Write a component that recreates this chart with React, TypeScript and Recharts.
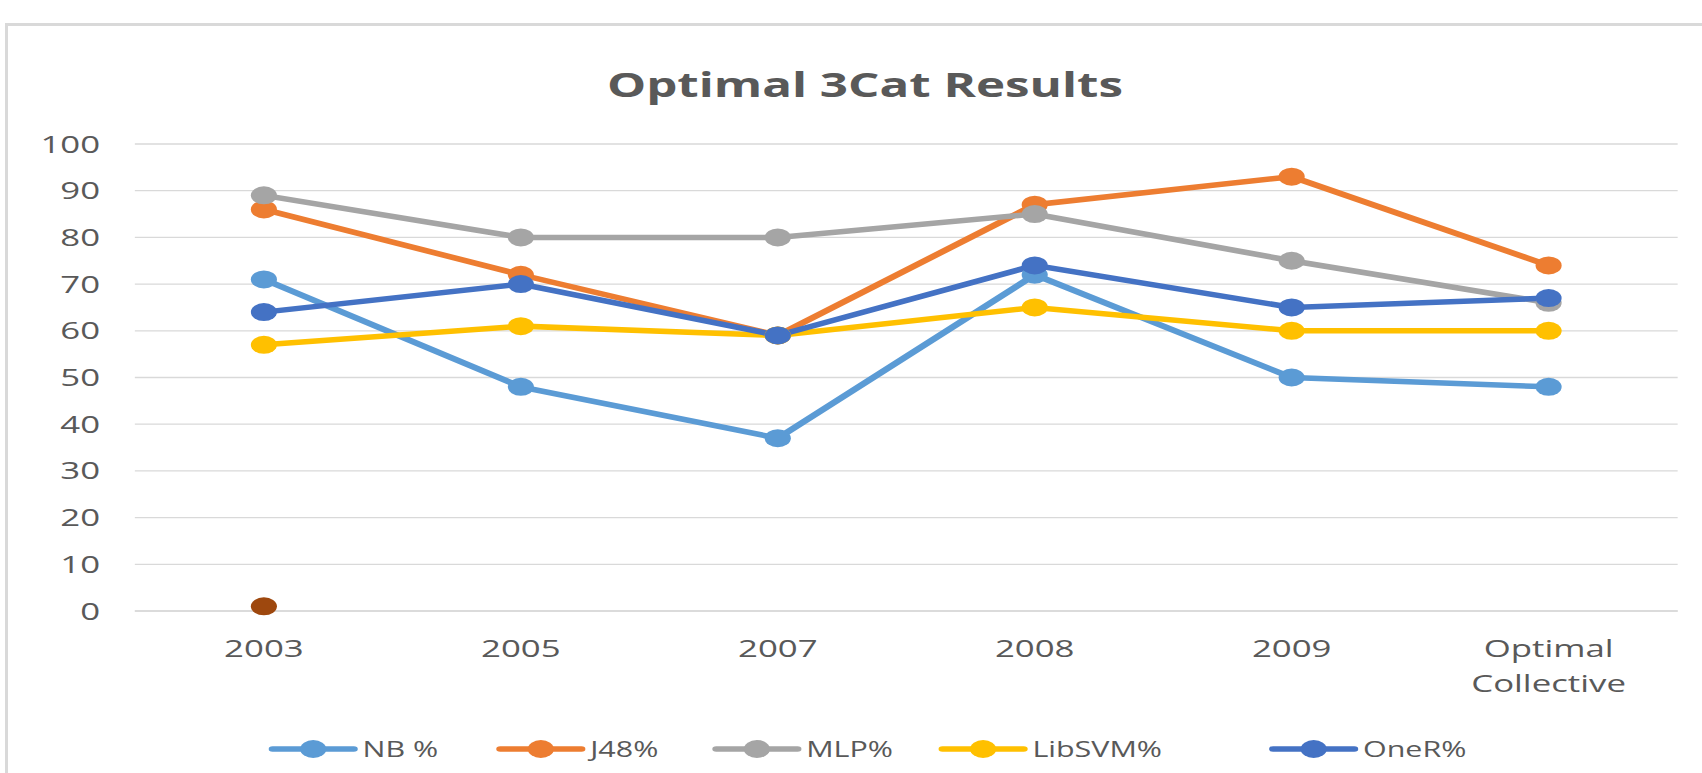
import React from "react";
import { LineChart, Line, XAxis, YAxis, CartesianGrid, Legend } from "recharts";

// values
const categories = ["2003", "2005", "2007", "2008", "2009", "Optimal Collective"];
const nbValues = [71, 48, 37, 72, 50, 48];
const j48Values = [86, 72, 59, 87, 93, 74];
const mlpValues = [89, 80, 80, 85, 75, 66];
const libSvmValues = [57, 61, 59, 65, 60, 60];
const oneRValues = [64, 70, 59, 74, 65, 67];
const strayValues = [1, null, null, null, null, null];
const yTicks = [0, 10, 20, 30, 40, 50, 60, 70, 80, 90, 100];

const series = [
  { key: "nb", name: "NB %", color: "#5B9BD5", values: nbValues },
  { key: "j48", name: "J48%", color: "#ED7D31", values: j48Values },
  { key: "mlp", name: "MLP%", color: "#A5A5A5", values: mlpValues },
  { key: "libsvm", name: "LibSVM%", color: "#FFC000", values: libSvmValues },
  { key: "oner", name: "OneR%", color: "#4472C4", values: oneRValues },
];

const data = categories.map((category, i) => {
  const row: Record<string, string | number | null> = { category, stray: strayValues[i] };
  series.forEach((s) => {
    row[s.key] = s.values[i];
  });
  return row;
});

// the reference is stretched horizontally, so the chart is drawn narrow and scaled
const STRETCH = 1.45;
const WIDTH = 1174;
const HEIGHT = 773;
const TEXT = "#595959";
const FONT = "'Open Sans', sans-serif";
const legendItemWidths = [157, 149, 156, 228, 150];

const CategoryTick = (props: any) => {
  const { x, y, payload } = props;
  const lines = String(payload.value).split(" ");
  return (
    <text x={x} y={y} textAnchor="middle" fill={TEXT} fontSize={24} fontFamily={FONT}>
      {lines.map((line, i) => (
        <tspan key={line} x={x} dy={i === 0 ? "0.71em" : 35}>
          {line}
        </tspan>
      ))}
    </text>
  );
};

const LegendContent = () => (
  <div style={{ height: 40, display: "flex", alignItems: "center", paddingLeft: 185 }}>
    {series.map((s, i) => (
      <div key={s.key} style={{ width: legendItemWidths[i], display: "flex", alignItems: "center" }}>
        <svg width={62} height={24}>
          <line x1={3} x2={59} y1={12} y2={12} stroke={s.color} strokeWidth={5.5} strokeLinecap="round" />
          <circle cx={31} cy={12} r={9} fill={s.color} />
        </svg>
        <span style={{ marginLeft: 3, fontSize: 21, color: TEXT, fontFamily: FONT }}>{s.name}</span>
      </div>
    ))}
  </div>
);

export default function App() {
  return (
    <div style={{ position: "absolute", left: 0, top: 0, width: 1702, height: HEIGHT, overflow: "hidden", background: "#fff" }}>
      <div
        style={{
          position: "absolute",
          left: 5,
          top: 23,
          width: 1720,
          height: 800,
          borderTop: "3px solid #d9d9d9",
          borderLeft: "3px solid #d9d9d9",
        }}
      />
      <div
        style={{
          position: "absolute",
          left: 0,
          top: 0,
          width: WIDTH,
          height: HEIGHT,
          transform: `scaleX(${STRETCH})`,
          transformOrigin: "0 0",
        }}
      >
        <div
          style={{
            position: "absolute",
            left: 0,
            top: 62,
            width: 1193,
            textAlign: "center",
            fontFamily: FONT,
            fontWeight: 700,
            fontSize: 34,
            lineHeight: "44px",
            color: TEXT,
          }}
        >
          Optimal 3Cat Results
        </div>
        <LineChart
          width={WIDTH}
          height={HEIGHT}
          data={data}
          margin={{ top: 144, right: 17, left: 0, bottom: 62 }}
        >
          <CartesianGrid vertical={false} stroke="#d9d9d9" strokeWidth={1.3} />
          <XAxis
            dataKey="category"
            interval={0}
            padding={{ left: 89, right: 89 }}
            tickLine={false}
            axisLine={{ stroke: "#d9d9d9", strokeWidth: 1.3 }}
            tickMargin={23}
            height={60}
            tick={<CategoryTick />}
          />
          <YAxis
            domain={[0, 100]}
            ticks={yTicks}
            width={93}
            tickLine={false}
            axisLine={false}
            tickMargin={18}
            tick={{ fill: TEXT, fontSize: 24, fontFamily: FONT }}
          />
          <Legend
            verticalAlign="bottom"
            content={<LegendContent />}
            wrapperStyle={{ left: 0, width: WIDTH, bottom: 4 }}
          />
          {series.map((s) => (
            <Line
              key={s.key}
              dataKey={s.key}
              name={s.name}
              stroke={s.color}
              strokeWidth={5.5}
              dot={{ r: 9, fill: s.color, stroke: s.color, strokeWidth: 0 }}
              activeDot={false}
              isAnimationActive={false}
            />
          ))}
          <Line
            dataKey="stray"
            legendType="none"
            stroke="#9E480E"
            strokeWidth={5.5}
            dot={{ r: 9, fill: "#9E480E", stroke: "#9E480E", strokeWidth: 0 }}
            activeDot={false}
            isAnimationActive={false}
          />
        </LineChart>
      </div>
    </div>
  );
}
